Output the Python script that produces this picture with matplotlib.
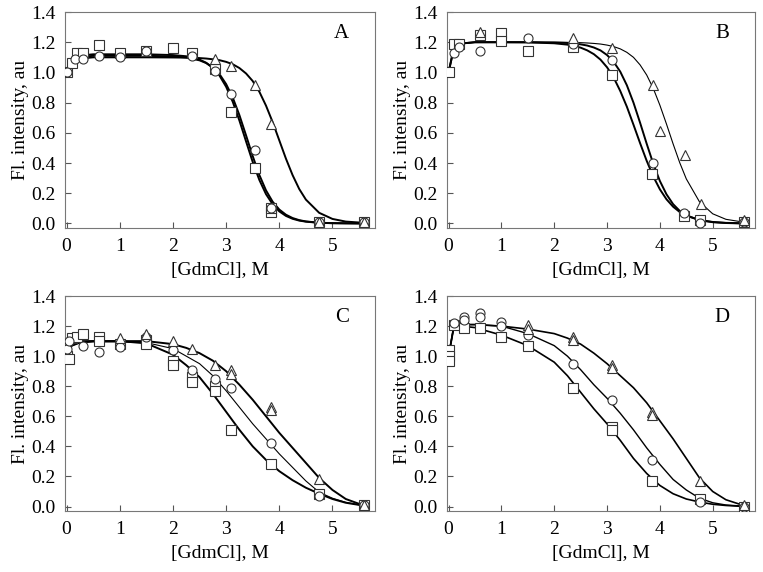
import matplotlib
matplotlib.use("Agg")
import matplotlib.pyplot as plt

plt.rcParams['font.family'] = ['Liberation Serif', 'DejaVu Serif']
plt.rcParams['font.size'] = 14

### Fitted curve grids
curve_x_ab = [0, 0.1, 0.2, 0.5, 1, 1.5, 2, 2.25, 2.5, 2.625, 2.75, 2.875, 3.0, 3.125, 3.25,
              3.375, 3.5, 3.625, 3.75, 3.875, 4.0, 4.125, 4.25, 4.375, 4.5, 4.75, 5.0, 5.25, 5.6]
curve_x_cd = [0, 0.1, 0.25, 0.5, 1, 1.5, 2, 2.25, 2.5, 2.75, 3, 3.25, 3.5, 3.75, 4, 4.25,
              4.5, 4.75, 5, 5.25, 5.6]

### Panel A
a_sq_x = [0, 0.1, 0.2, 0.3, 0.6, 1.0, 1.5, 2.0, 2.35, 2.8, 3.1, 3.55, 3.85, 3.85, 4.75, 5.6]
a_sq_y = [1.0, 1.06, 1.13, 1.13, 1.18, 1.13, 1.14, 1.16, 1.13, 1.02, 0.74, 0.37, 0.075, 0.10, 0.01, 0.01]
a_ci_x = [0, 0.15, 0.3, 0.6, 1.0, 1.5, 2.35, 2.8, 3.1, 3.55, 3.85, 4.75, 5.6]
a_ci_y = [1.0, 1.09, 1.09, 1.11, 1.10, 1.14, 1.11, 1.01, 0.86, 0.485, 0.10, 0.01, 0.01]
a_tr_x = [2.8, 3.1, 3.55, 3.85, 4.75, 5.6]
a_tr_y = [1.09, 1.04, 0.92, 0.66, 0.01, 0.01]
a_sq_fit = [1.0, 1.07, 1.11, 1.12, 1.12, 1.12, 1.115, 1.107, 1.085, 1.064, 1.030, 0.979, 0.905, 0.805,
            0.681, 0.543, 0.407, 0.288, 0.194, 0.127, 0.080, 0.050, 0.031, 0.019, 0.012, 0.004, 0.002, 0.001, 0.0]
a_ci_fit = [1.0, 1.07, 1.10, 1.11, 1.11, 1.11, 1.106, 1.099, 1.080, 1.062, 1.033, 0.989, 0.923, 0.833,
            0.717, 0.583, 0.446, 0.321, 0.219, 0.144, 0.092, 0.058, 0.036, 0.022, 0.0135, 0.005, 0.002, 0.001, 0.0]
a_tr_fit = [1.0, 1.07, 1.09, 1.10, 1.10, 1.10, 1.099, 1.098, 1.095, 1.092, 1.087, 1.081, 1.070, 1.054,
            1.029, 0.993, 0.943, 0.872, 0.780, 0.671, 0.550, 0.429, 0.320, 0.228, 0.158, 0.0705, 0.030, 0.0125, 0.004]

### Panel B
b_sq_x = [0, 0.1, 0.2, 0.6, 1.0, 1.0, 1.5, 2.35, 3.1, 3.85, 4.45, 4.75, 5.6]
b_sq_y = [1.0, 1.19, 1.19, 1.25, 1.26, 1.21, 1.14, 1.17, 0.98, 0.33, 0.05, 0.02, 0.01]
b_ci_x = [0.1, 0.2, 0.6, 1.5, 2.35, 3.1, 3.87, 4.45, 4.75, 5.6]
b_ci_y = [1.13, 1.17, 1.14, 1.23, 1.19, 1.08, 0.40, 0.07, 0.0, 0.01]
b_tr_x = [0.6, 2.35, 3.1, 3.87, 4.0, 4.47, 4.78, 5.6]
b_tr_y = [1.27, 1.23, 1.16, 0.92, 0.61, 0.45, 0.13, 0.02]
b_sq_fit = [1.0, 1.16, 1.19, 1.20, 1.20, 1.199, 1.193, 1.184, 1.164, 1.146, 1.121, 1.085, 1.034, 0.966,
            0.877, 0.773, 0.654, 0.532, 0.415, 0.311, 0.226, 0.160, 0.111, 0.076, 0.0515, 0.023, 0.010, 0.004, 0.001]
b_ci_fit = [1.0, 1.16, 1.19, 1.20, 1.20, 1.20, 1.198, 1.195, 1.186, 1.178, 1.165, 1.146, 1.115, 1.070,
            1.005, 0.915, 0.80, 0.667, 0.528, 0.395, 0.281, 0.193, 0.128, 0.0835, 0.0535, 0.0216, 0.0085, 0.003, 0.0]
b_tr_fit = [1.0, 1.16, 1.19, 1.20, 1.20, 1.20, 1.20, 1.199, 1.197, 1.195, 1.192, 1.188, 1.181, 1.171,
            1.156, 1.133, 1.10, 1.050, 0.983, 0.894, 0.783, 0.658, 0.527, 0.403, 0.295, 0.143, 0.064, 0.0275, 0.008]

### Panel C
c_sq_x = [0, 0.05, 0.1, 0.2, 0.3, 0.6, 0.6, 1.0, 1.5, 1.5, 2.0, 2.0, 2.35, 2.35, 2.8, 2.8, 3.1, 3.85, 4.75, 5.6]
c_sq_y = [1.0, 0.98, 1.12, 1.13, 1.15, 1.13, 1.10, 1.08, 1.11, 1.08, 0.97, 0.94, 0.86, 0.83, 0.80, 0.77,
          0.51, 0.28, 0.08, 0.01]
c_ci_x = [0, 0.05, 0.3, 0.6, 1.0, 1.5, 2.0, 2.35, 2.8, 3.1, 3.85, 4.75, 5.6]
c_ci_y = [1.05, 1.10, 1.07, 1.03, 1.06, 1.13, 1.04, 0.91, 0.85, 0.79, 0.42, 0.07, 0.01]
c_tr_x = [1.0, 1.5, 2.0, 2.35, 2.8, 3.1, 3.1, 3.85, 3.85, 4.75, 5.6]
c_tr_y = [1.12, 1.15, 1.10, 1.05, 0.94, 0.91, 0.88, 0.66, 0.64, 0.18, 0.01]
c_sq_fit = [1.02, 1.08, 1.10, 1.10, 1.10, 1.085, 1.01, 0.94, 0.86, 0.75, 0.63, 0.51, 0.40, 0.31, 0.235,
            0.175, 0.125, 0.085, 0.05, 0.025, 0.005]
c_ci_fit = [1.02, 1.07, 1.09, 1.095, 1.095, 1.09, 1.05, 1.0, 0.95, 0.87, 0.77, 0.66, 0.55, 0.45, 0.35,
            0.26, 0.17, 0.095, 0.055, 0.028, 0.005]
c_tr_fit = [1.02, 1.07, 1.09, 1.10, 1.10, 1.10, 1.08, 1.055, 1.02, 0.97, 0.90, 0.81, 0.71, 0.60, 0.49,
            0.39, 0.29, 0.19, 0.11, 0.05, 0.005]

### Panel D
d_sq_x = [0, 0, 0, 0.1, 0.3, 0.6, 1.0, 1.5, 2.35, 3.1, 3.1, 3.85, 4.75, 5.6]
d_sq_y = [1.04, 1.0, 0.97, 1.21, 1.19, 1.19, 1.13, 1.07, 0.79, 0.53, 0.51, 0.17, 0.05, 0.0]
d_ci_x = [0.1, 0.3, 0.3, 0.6, 0.6, 1.0, 1.0, 1.5, 2.35, 3.1, 3.85, 4.75, 5.6]
d_ci_y = [1.22, 1.26, 1.24, 1.29, 1.26, 1.23, 1.20, 1.14, 0.95, 0.71, 0.31, 0.03, 0.0]
d_tr_x = [1.5, 1.5, 2.35, 2.35, 3.1, 3.1, 3.85, 3.85, 4.75, 5.6]
d_tr_y = [1.21, 1.18, 1.13, 1.11, 0.94, 0.92, 0.63, 0.61, 0.17, 0.01]
d_sq_fit = [1.0, 1.19, 1.20, 1.19, 1.14, 1.07, 0.96, 0.87, 0.76, 0.65, 0.55, 0.44, 0.32, 0.22, 0.14,
            0.085, 0.05, 0.03, 0.015, 0.007, 0.0]
d_ci_fit = [1.0, 1.20, 1.21, 1.21, 1.20, 1.15, 1.07, 1.0, 0.91, 0.81, 0.72, 0.62, 0.51, 0.39, 0.28,
            0.18, 0.11, 0.055, 0.025, 0.01, 0.002]
d_tr_fit = [1.0, 1.20, 1.21, 1.21, 1.20, 1.18, 1.15, 1.12, 1.08, 1.02, 0.95, 0.87, 0.79, 0.69, 0.57,
            0.45, 0.32, 0.19, 0.10, 0.045, 0.005]

panel_labels = ['A', 'B', 'C', 'D']
x_ticks = [0, 1, 2, 3, 4, 5]
y_ticks = [0.0, 0.2, 0.4, 0.6, 0.8, 1.0, 1.2, 1.4]

fig = plt.figure(figsize=(7.63, 5.72), dpi=100)
rects = [[0.0852, 0.6014, 0.4063, 0.3776],
         [0.5858, 0.6014, 0.4037, 0.3776],
         [0.0852, 0.1066, 0.4063, 0.3759],
         [0.5858, 0.1066, 0.4037, 0.3759]]

panels = [
    (curve_x_ab, [(a_sq_x, a_sq_y, a_sq_fit, 's', 1.4), (a_ci_x, a_ci_y, a_ci_fit, 'o', 1.4), (a_tr_x, a_tr_y, a_tr_fit, '^', 1.4)]),
    (curve_x_ab, [(b_sq_x, b_sq_y, b_sq_fit, 's', 1.4), (b_ci_x, b_ci_y, b_ci_fit, 'o', 1.4), (b_tr_x, b_tr_y, b_tr_fit, '^', 0.8)]),
    (curve_x_cd, [(c_sq_x, c_sq_y, c_sq_fit, 's', 1.4), (c_ci_x, c_ci_y, c_ci_fit, 'o', 0.8), (c_tr_x, c_tr_y, c_tr_fit, '^', 1.4)]),
    (curve_x_cd, [(d_sq_x, d_sq_y, d_sq_fit, 's', 1.2), (d_ci_x, d_ci_y, d_ci_fit, 'o', 1.0), (d_tr_x, d_tr_y, d_tr_fit, '^', 1.2)]),
]

for i, (cx, series) in enumerate(panels):
    ax = fig.add_axes(rects[i])
    for xs, ys, fit, m, lw in series:
        ax.plot(cx, fit, color='black', lw=lw, zorder=2)
    for xs, ys, fit, m, lw in series:
        ms = 7 if m == '^' else 6.5
        ax.plot(xs, ys, ls='none', marker=m, ms=ms, mfc='white', mec='#333333', mew=0.8, zorder=3)
    ax.set_xlim(-0.03, 5.8)
    ax.set_ylim(-0.03, 1.4)
    ax.set_xticks(x_ticks)
    ax.set_yticks(y_ticks)
    ax.set_yticklabels([f'{v:.1f}' for v in y_ticks])
    ax.tick_params(direction='in', length=4, width=0.8, color='#555555', pad=7)
    for s in ax.spines.values():
        s.set_color('#777777')
        s.set_linewidth(0.8)
    ax.set_xlabel('[GdmCl], M', labelpad=5)
    ax.set_ylabel('Fl. intensity, au', labelpad=1)
    ax.text(0.893, 0.90, panel_labels[i], transform=ax.transAxes, ha='center', va='center', fontsize=15)

plt.savefig('out.png', dpi=100)
